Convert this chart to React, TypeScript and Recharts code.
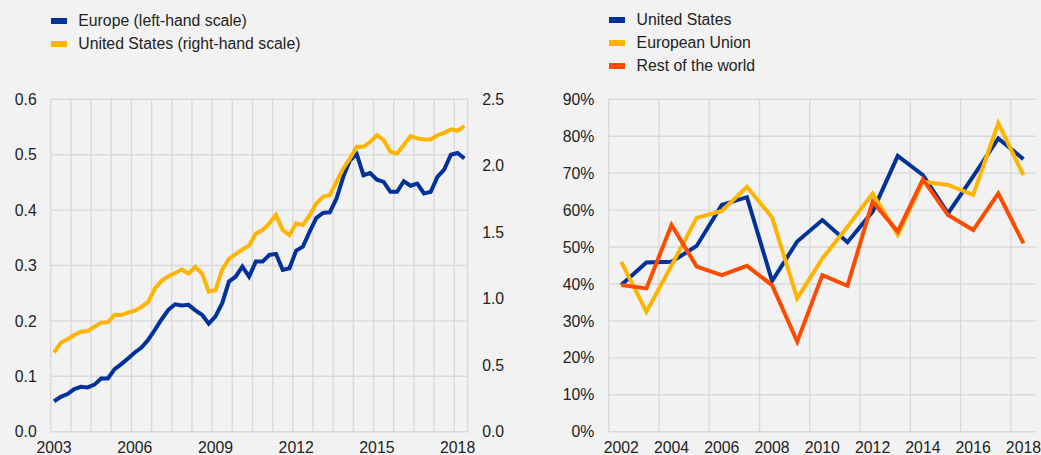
import { LineChart, Line, XAxis, YAxis, CartesianGrid } from "recharts";

const FONT = '"Liberation Sans", Arial, sans-serif';
const BG = "#f2f2f2";
const GRID = "#d9d9d9";
const TEXT = "#222222";
const BLUE = "#003299";
const YELLOW = "#ffb400";
const ORANGE = "#ff4b00";

// left panel: quarterly, 2003 Q1 - 2018 Q2
const LEFT_YEARS = ["2003", "2004", "2005", "2006", "2007", "2008", "2009", "2010", "2011", "2012", "2013", "2014", "2015", "2016", "2017", "2018"];
const QUARTERS = LEFT_YEARS.flatMap((y) => ["Q1", "Q2", "Q3", "Q4"].map((q) => `${y} ${q}`)).slice(0, 62);
const LEFT_TICKS = [0, 12, 24, 36, 48, 60];
const LEFT_GRID = [-0.5, 2.5, 5.5, 8.5, 11.5, 14.5, 17.5, 20.5, 23.5, 26.5, 29.5, 32.5, 35.5, 38.5, 41.5, 44.5, 47.5, 50.5, 53.5, 56.5, 59.5];
const LEFT_Y_TICKS = [0, 0.1, 0.2, 0.3, 0.4, 0.5, 0.6];
const RIGHT_Y_TICKS_L = [0, 0.5, 1, 1.5, 2, 2.5];

const EUROPE = [
  0.055, 0.063, 0.068, 0.077, 0.081, 0.08, 0.085, 0.096, 0.096, 0.113, 0.122, 0.132, 0.143, 0.152, 0.166, 0.184,
  0.203, 0.22, 0.23, 0.228, 0.229, 0.219, 0.211, 0.195, 0.208, 0.232, 0.271, 0.28, 0.298, 0.28, 0.307, 0.307,
  0.319, 0.321, 0.292, 0.295, 0.327, 0.334, 0.361, 0.386, 0.395, 0.396, 0.421, 0.46, 0.49, 0.501, 0.463, 0.467,
  0.455, 0.451, 0.433, 0.433, 0.452, 0.444, 0.448, 0.43, 0.433, 0.46, 0.473, 0.5, 0.503, 0.493,
];
const US_RATIO = [
  0.594, 0.669, 0.695, 0.727, 0.752, 0.757, 0.79, 0.82, 0.823, 0.88, 0.877, 0.895, 0.91, 0.94, 0.977, 1.078,
  1.135, 1.17, 1.193, 1.22, 1.188, 1.24, 1.19, 1.053, 1.065, 1.22, 1.3, 1.335, 1.37, 1.4, 1.49, 1.516,
  1.567, 1.629, 1.516, 1.479, 1.567, 1.554, 1.629, 1.717, 1.767, 1.78, 1.88, 1.98, 2.056, 2.143, 2.143, 2.18,
  2.23, 2.193, 2.105, 2.093, 2.156, 2.223, 2.206, 2.198, 2.198, 2.23, 2.248, 2.274, 2.263, 2.298,
];

// right panel: annual, 2002 - 2018
const YEARS = ["2002", "2003", "2004", "2005", "2006", "2007", "2008", "2009", "2010", "2011", "2012", "2013", "2014", "2015", "2016", "2017", "2018"];
const YEAR_TICKS = [0, 2, 4, 6, 8, 10, 12, 14, 16];
const YEAR_GRID = [-0.5, 1.5, 3.5, 5.5, 7.5, 9.5, 11.5, 13.5, 15.5];
const PCT_TICKS = [0, 10, 20, 30, 40, 50, 60, 70, 80, 90];
const US_SHARE = [39.7, 45.8, 46.0, 50.3, 61.4, 63.5, 40.8, 51.5, 57.3, 51.3, 59.6, 74.7, 69.5, 59.1, 69.1, 79.4, 73.8];
const EU_SHARE = [46.0, 32.5, 45.0, 57.9, 59.8, 66.3, 58.0, 36.1, 46.9, 55.5, 64.5, 53.3, 67.7, 66.8, 64.1, 83.5, 69.5];
const ROW_SHARE = [39.7, 38.8, 56.0, 44.7, 42.4, 44.9, 39.7, 24.4, 42.4, 39.5, 62.3, 54.2, 68.3, 58.7, 54.6, 64.5, 51.0];

const leftData = QUARTERS.map((q, i) => ({ i, q, europe: EUROPE[i], us: US_RATIO[i] }));
const rightData = YEARS.map((y, i) => ({ i, y, us: US_SHARE[i], eu: EU_SHARE[i], row: ROW_SHARE[i] }));

const tickStyle = { fill: TEXT, fontSize: 15.8, fontFamily: FONT };

const quarterYear = (v: number) => (QUARTERS[v] ? QUARTERS[v].slice(0, 4) : "");
const yearLabel = (v: number) => YEARS[v] ?? "";

function LegendBox({ items, left, rowGap }: { items: { label: string; color: string }[]; left: number; rowGap: number }) {
  return (
    <div style={{ position: "absolute", left, top: 9 }}>
      {items.map((it) => (
        <div key={it.label} style={{ display: "flex", alignItems: "center", height: rowGap }}>
          <span style={{ width: 16, height: 6, background: it.color, marginRight: 11.6 }} />
          <span style={{ fontSize: 15.8, color: TEXT, fontFamily: FONT, whiteSpace: "nowrap" }}>{it.label}</span>
        </div>
      ))}
    </div>
  );
}

export default function App() {
  return (
    <div style={{ position: "absolute", left: 0, top: 0, width: 1041, height: 455, background: BG, overflow: "hidden" }}>
      <LegendBox
        left={50.7}
        rowGap={23.3}
        items={[
          { label: "Europe (left-hand scale)", color: BLUE },
          { label: "United States (right-hand scale)", color: YELLOW },
        ]}
      />
      <LegendBox
        left={609}
        rowGap={22.7}
        items={[
          { label: "United States", color: BLUE },
          { label: "European Union", color: YELLOW },
          { label: "Rest of the world", color: ORANGE },
        ]}
      />

      <div style={{ position: "absolute", left: 0, top: 0 }}>
        <LineChart width={520} height={455} data={leftData} margin={{ top: 99.3, right: 0, bottom: 0, left: 0 }}>
          <CartesianGrid stroke={GRID} strokeWidth={1.4} yAxisId="left" verticalValues={LEFT_GRID} />
          <XAxis
            dataKey="i"
            type="number"
            domain={[-0.5, 61.5]}
            ticks={LEFT_TICKS}
            tickFormatter={quarterYear}
            tick={tickStyle}
            tickLine={false}
            tickSize={0}
            tickMargin={10}
            axisLine={false}
            height={23.3}
            allowDataOverflow
          />
          <YAxis
            yAxisId="left"
            domain={[0, 0.6]}
            ticks={LEFT_Y_TICKS}
            tickFormatter={(v) => v.toFixed(1)}
            tick={tickStyle}
            tickLine={false}
            tickSize={0}
            tickMargin={14}
            axisLine={false}
            width={50.7}
          />
          <YAxis
            yAxisId="right"
            orientation="right"
            domain={[0, 2.5]}
            ticks={RIGHT_Y_TICKS_L}
            tickFormatter={(v) => v.toFixed(1)}
            tick={tickStyle}
            tickLine={false}
            tickSize={0}
            tickMargin={14.5}
            axisLine={{ stroke: GRID, strokeWidth: 1.4 }}
            width={52.3}
          />
          <Line yAxisId="left" dataKey="europe" stroke={BLUE} strokeWidth={4} dot={false} isAnimationActive={false} />
          <Line yAxisId="right" dataKey="us" stroke={YELLOW} strokeWidth={4} dot={false} isAnimationActive={false} />
        </LineChart>
      </div>

      <div style={{ position: "absolute", left: 520, top: 0 }}>
        <LineChart width={521} height={455} data={rightData} margin={{ top: 99.3, right: 5, bottom: 0, left: 0 }}>
          <CartesianGrid stroke={GRID} strokeWidth={1.4} verticalValues={YEAR_GRID} />
          <XAxis
            dataKey="i"
            type="number"
            domain={[-0.5, 16.5]}
            ticks={YEAR_TICKS}
            tickFormatter={yearLabel}
            tick={tickStyle}
            tickLine={false}
            tickSize={0}
            tickMargin={10}
            axisLine={false}
            height={23.3}
            allowDataOverflow
          />
          <YAxis
            domain={[0, 90]}
            ticks={PCT_TICKS}
            tickFormatter={(v) => `${v}%`}
            tick={tickStyle}
            tickLine={false}
            tickSize={0}
            tickMargin={14.4}
            axisLine={false}
            width={88.7}
          />
          <Line dataKey="us" stroke={BLUE} strokeWidth={4} dot={false} isAnimationActive={false} />
          <Line dataKey="eu" stroke={YELLOW} strokeWidth={4} dot={false} isAnimationActive={false} />
          <Line dataKey="row" stroke={ORANGE} strokeWidth={4} dot={false} isAnimationActive={false} />
        </LineChart>
      </div>
    </div>
  );
}
